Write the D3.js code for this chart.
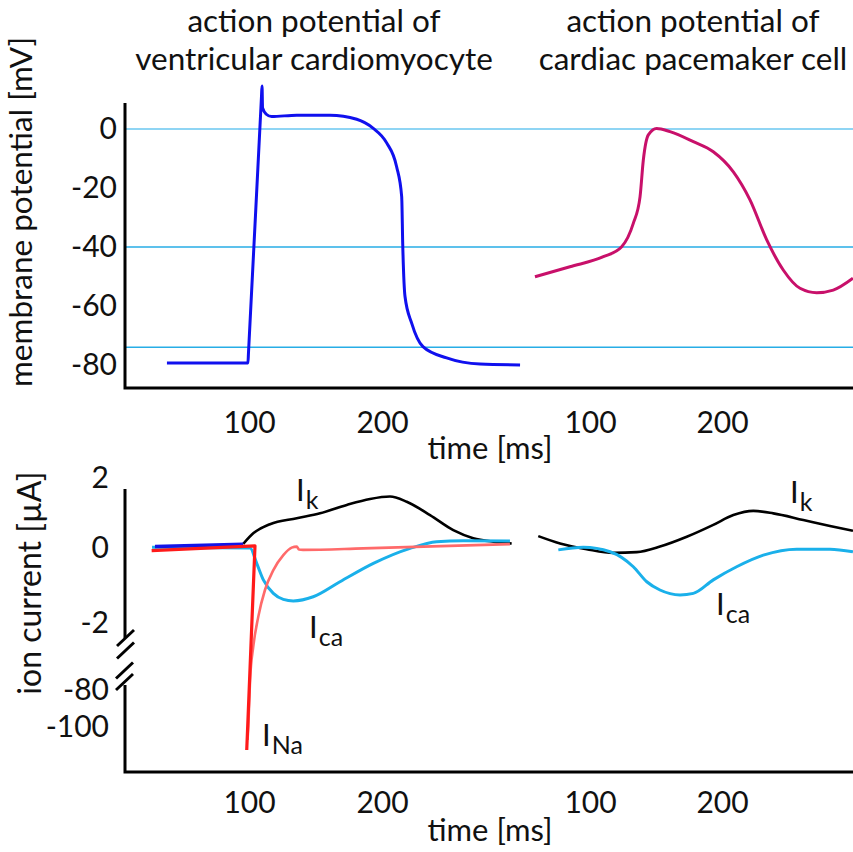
<!DOCTYPE html>
<html>
<head>
<meta charset="utf-8">
<script src="https://cdn.jsdelivr.net/npm/d3@7"></script>
<style>
  html, body { margin: 0; padding: 0; background: #fff; }
  svg { display: block; }
  text { font-family: Lato, "Open Sans", sans-serif; fill: #111; }
</style>
</head>
<body>
<svg id="chart" width="853" height="852"></svg>
<script>
// ---------------- data ----------------
const titlesLeft = ["action potential of", "ventricular cardiomyocyte"];
const titlesRight = ["action potential of", "cardiac pacemaker cell"];
const yLabelTop = "membrane potential [mV]";
const yLabelBottom = "ion current [µA]";
const xLabel = "time [ms]";

const xTicks = [100, 200];
const yTicksTop = [0, -20, -40, -60, -80];
const gridTop = [0, -40, -74];
const yTicksBottom = [2, 0, -2, -80, -100];

// ventricular action potential (ms, mV)
const apVentT = [38.3, 99.2, 99.6, 109.4, 109.8, 110.2, 113, 117, 135.9, 160.9, 181, 193.2, 203.5, 211, 214.8, 215.6, 217.3, 222.3, 230.8, 248.6, 273.7, 303.8];
const apVentV = [-79.3, -79.3, -76, 11.2, 14.6, 7.1, 5.0, 4.2, 4.7, 4.7, 3.3, 0.3, -4.7, -12.8, -22.9, -39.3, -56.8, -65.8, -73.8, -77.6, -79.7, -80];

// pacemaker action potential (ms, mV)
const apPaceT = [58.3, 84.8, 110.1, 124, 132.8, 137.9, 140.4, 144.2, 150.5, 160.6, 178.3, 193.4, 208.6, 221.2, 233.9, 246.4, 259.1, 271.7, 284.3, 299.2];
const apPaceV = [-50.1, -46.7, -43.3, -39.9, -32, -23, -10.5, -2, 0.2, -0.9, -4.3, -7.7, -14.5, -24, -37.6, -47.8, -54, -55.5, -54.6, -50.6];

// ventricular currents (ms, µA)
const ikVentT = [95.7, 103.2, 115.8, 135.9, 153.4, 173.5, 191, 206, 218.6, 236.1, 253.6, 268.6, 283.7, 297.5];
const ikVentV = [0.12, 0.42, 0.68, 0.85, 0.99, 1.23, 1.40, 1.47, 1.32, 0.94, 0.51, 0.28, 0.18, 0.13];

const icaVentT = [27.1, 100.8, 105.8, 110.8, 118.3, 125.8, 133.3, 148.3, 168.4, 193.5, 221.1, 241.1, 261.1, 296.2];
const icaVentV = [0.02, 0, -0.41, -0.85, -1.21, -1.37, -1.41, -1.30, -0.90, -0.41, -0.01, 0.18, 0.21, 0.2];

const stimT = [29.3, 95.7];
const stimV = [0.04, 0.11];

const inaT = [26.8, 104.5, 98.3];
const inaV = [-0.07, 0.06, -112.4];

const inaTailT = [98.9, 99.5, 100.8, 103.2, 107, 112, 118.3, 125.8, 132.1, 135.9, 137.6, 140.6, 185.9, 296.2];
const inaTailV = [-107, -99.6, -68.3, -29.6, -1.83, -1.12, -0.59, -0.19, 0.01, 0.04, -0.04, -0.05, -0.01, 0.11];

// pacemaker currents (ms, µA)
const ikPaceT = [60.8, 77.3, 97.5, 117.7, 135.4, 153, 173.3, 193.4, 208.6, 223.7, 238.9, 261.6, 281.8, 299.2];
const ikPaceV = [0.34, 0.13, -0.03, -0.13, -0.11, 0.04, 0.32, 0.66, 0.94, 1.06, 0.99, 0.8, 0.63, 0.49];

const icaPaceT = [76, 94.9, 115.2, 132.8, 143, 153, 168.2, 178.3, 193.4, 211.1, 231.3, 256.6, 281.8, 299.2];
const icaPaceV = [-0.05, 0.02, -0.1, -0.5, -0.9, -1.12, -1.25, -1.21, -0.85, -0.5, -0.19, -0.03, -0.03, -0.1];

// ---------------- layout ----------------
const svg = d3.select("#chart");
const W = 853;
const axisX = 125;
const topAxisTop = 103, topAxisBottom = 388;
const botAxisTop = 489, botAxisBottom = 772, breakTop = 638, breakBottom = 685;

const xL = d3.scaleLinear().domain([100, 200]).range([249, 382]);
const xR = d3.scaleLinear().domain([100, 200]).range([590, 722]);
const yTop = d3.scaleLinear().domain([-80, 0]).range([365, 129]);
const yBot = d3.scaleLinear().domain([-100, -80, -2, 0, 2]).range([727, 690, 623, 548, 478]);

const zip = (t, v) => t.map((d, i) => [d, v[i]]);
const fmt = d => String(d);

// clip to the svg area
svg.append("defs").append("clipPath").attr("id", "clip")
  .append("rect").attr("x", 0).attr("y", 0).attr("width", W).attr("height", 852);
const plot = svg.append("g").attr("clip-path", "url(#clip)");

// gridlines top
plot.selectAll("line.grid").data(gridTop).enter().append("line")
  .attr("x1", axisX).attr("x2", W)
  .attr("y1", d => yTop(d)).attr("y2", d => yTop(d))
  .attr("stroke", d => d === 0 ? "#8fd5f4" : "#27ade6")
  .attr("stroke-width", d => d === 0 ? 2 : 1.4);

// axes lines
const axStyle = s => s.attr("stroke", "#000").attr("stroke-width", 3).attr("fill", "none");
svg.append("path").attr("d", `M${axisX},${topAxisTop}V${topAxisBottom}H${W}`).call(axStyle);
svg.append("path").attr("d", `M${axisX},${botAxisTop}V${breakTop}M${axisX},${breakBottom}V${botAxisBottom}H${W}`).call(axStyle);

// break marks
const slashes = [[-8, 9, 0], [-8, 9, 12.5], [-9, 8, 32.5], [-9, 8, 44]];
slashes.forEach(([dx1, dx2, dy]) => {
  svg.append("line")
    .attr("x1", axisX + dx1).attr("y1", 646 + dy)
    .attr("x2", axisX + dx2).attr("y2", 630 + dy)
    .attr("stroke", "#000").attr("stroke-width", 3);
});

// tick labels via axes
function yAxisLabels(scale, ticks, pad) {
  const g = svg.append("g").attr("transform", `translate(${axisX},0)`)
    .call(d3.axisLeft(scale).tickValues(ticks).tickSize(0).tickPadding(pad).tickFormat(fmt));
  g.select(".domain").remove();
  g.selectAll("text").style("font-family", "Lato, sans-serif").style("font-size", "30px").attr("fill", "#111");
}
yAxisLabels(yTop, yTicksTop, 8);
yAxisLabels(yBot, yTicksBottom, 16);

function xAxisLabels(scale, yPos, baseline) {
  const g = svg.append("g").attr("transform", `translate(0,${yPos})`)
    .call(d3.axisBottom(scale).tickValues(xTicks).tickSize(0).tickPadding(0).tickFormat(fmt));
  g.select(".domain").remove();
  g.selectAll("text").attr("dy", null).attr("y", baseline - yPos)
    .style("font-family", "Lato, sans-serif").style("font-size", "30px").attr("fill", "#111");
}
xAxisLabels(xL, topAxisBottom, 433);
xAxisLabels(xR, topAxisBottom, 433);
xAxisLabels(xL, botAxisBottom, 813);
xAxisLabels(xR, botAxisBottom, 813);

// axis titles
svg.append("text").attr("x", 490).attr("y", 459).attr("text-anchor", "middle")
  .style("font-size", "31px").text(xLabel);
svg.append("text").attr("x", 490).attr("y", 841).attr("text-anchor", "middle")
  .style("font-size", "31px").text(xLabel);
svg.append("text").attr("transform", "translate(32,212) rotate(-90)").attr("text-anchor", "middle")
  .style("font-size", "31.5px").text(yLabelTop);
svg.append("text").attr("transform", "translate(41,583) rotate(-90)").attr("text-anchor", "middle")
  .style("font-size", "32px").text(yLabelBottom);

// titles
[[titlesLeft, 314], [titlesRight, 693]].forEach(([lines, cx]) => {
  lines.forEach((s, i) => {
    svg.append("text").attr("x", cx).attr("y", 32 + i * 38).attr("text-anchor", "middle")
      .style("font-size", "31.5px").text(s);
  });
});

// ---------------- curves ----------------
function drawLine(xs, ys, t, v, color, width, curve) {
  const line = d3.line().x(d => xs(d[0])).y(d => ys(d[1])).curve(curve || d3.curveMonotoneX);
  plot.append("path").datum(zip(t, v)).attr("d", line)
    .attr("fill", "none").attr("stroke", color).attr("stroke-width", width)
    .attr("stroke-linejoin", "round").attr("stroke-linecap", "butt");
}

drawLine(xL, yTop, apVentT, apVentV, "#1010ee", 3);
drawLine(xR, yTop, apPaceT, apPaceV, "#c8106a", 3);

drawLine(xL, yBot, ikVentT, ikVentV, "#000", 2.6);
drawLine(xL, yBot, icaVentT, icaVentV, "#1ab0ea", 3);
drawLine(xL, yBot, stimT, stimV, "#1414e6", 3.5, d3.curveLinear);
drawLine(xL, yBot, inaTailT, inaTailV, "#ff6a6a", 2.6);
drawLine(xL, yBot, inaT, inaV, "#ff1a1a", 3.2, d3.curveLinear);

drawLine(xR, yBot, ikPaceT, ikPaceV, "#000", 2.6);
drawLine(xR, yBot, icaPaceT, icaPaceV, "#1ab0ea", 3);

// current labels
function currentLabel(x, y, sub) {
  const t = svg.append("text").attr("x", x).attr("y", y).style("font-size", "31px");
  t.append("tspan").text("I");
  t.append("tspan").attr("dx", 1).attr("dy", 8).style("font-size", "25px").text(sub);
}
currentLabel(296, 501, "k");
currentLabel(309, 638, "ca");
currentLabel(262, 746, "Na");
currentLabel(790, 503, "k");
currentLabel(716, 615, "ca");
</script>
</body>
</html>
